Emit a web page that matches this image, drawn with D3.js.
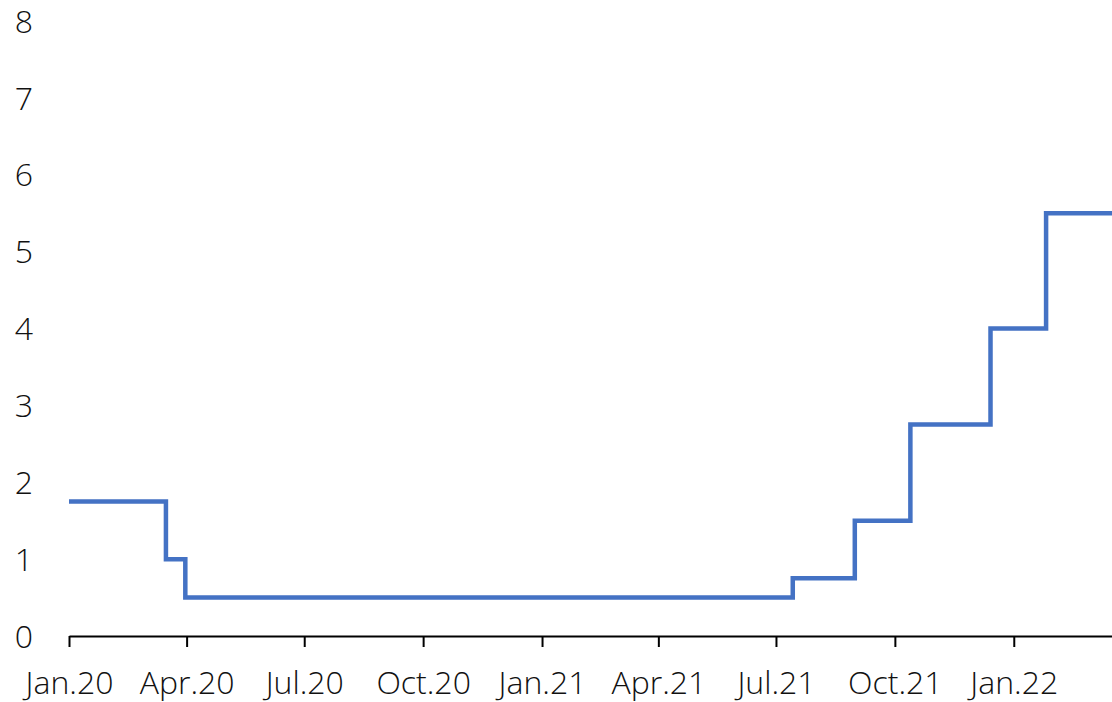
<!DOCTYPE html>
<html>
<head>
<meta charset="utf-8">
<script src="https://cdn.jsdelivr.net/npm/d3@7"></script>
<style>
  html, body { margin: 0; padding: 0; background: #fff; }
  svg { display: block; }
  text { font-family: "Open Sans", "Segoe UI", sans-serif; font-weight: 300; fill: #111; }
</style>
</head>
<body>
<svg id="chart" width="1112" height="702"></svg>
<script>
// Policy rate (%) — change dates and levels
const changeDates = ["2020-01-01", "2020-03-16", "2020-03-31", "2021-07-14", "2021-08-31", "2021-10-13", "2021-12-14", "2022-01-26"];
const rates = [1.75, 1.0, 0.5, 0.75, 1.5, 2.75, 4.0, 5.5];
const endDate = "2022-03-18";
const xTickDates = ["2020-01-01", "2020-04-01", "2020-07-01", "2020-10-01", "2021-01-01", "2021-04-01", "2021-07-01", "2021-10-01", "2022-01-01"];
const xTickLabels = ["Jan.20", "Apr.20", "Jul.20", "Oct.20", "Jan.21", "Apr.21", "Jul.21", "Oct.21", "Jan.22"];
const yTicks = [0, 1, 2, 3, 4, 5, 6, 7, 8];

const parse = d3.utcParse("%Y-%m-%d");
const W = 1112, H = 702;
const margin = { left: 69, right: 0, top: 21, bottom: 66 };

const svg = d3.select("#chart");

const x = d3.scaleUtc()
  .domain([parse(changeDates[0]), parse(endDate)])
  .range([margin.left, W - margin.right]);
const y = d3.scaleLinear()
  .domain([0, 8])
  .range([H - margin.bottom, margin.top]);

const pts = changeDates.map((d, i) => ({ date: parse(d), v: rates[i] }));
pts.push({ date: parse(endDate), v: rates[rates.length - 1] });

const fontSize = 32;

// y labels (no axis line)
const yAxis = d3.axisLeft(y).tickValues(yTicks).tickSize(0).tickFormat(d3.format("d"));
const gy = svg.append("g").attr("transform", "translate(33,0)").call(yAxis);
gy.select(".domain").remove();
gy.selectAll("text").attr("font-size", fontSize).attr("dy", "0.35em").attr("x", 0)
  .style("font-family", '"Open Sans", sans-serif').style("font-weight", 300).attr("fill", "#111");

// x axis
const xAxis = d3.axisBottom(x)
  .tickValues(xTickDates.map(parse))
  .tickSize(11)
  .tickSizeOuter(0)
  .tickFormat((d, i) => xTickLabels[i]);
const gx = svg.append("g").attr("transform", `translate(0,${y(0)})`).call(xAxis);
gx.select(".domain").attr("stroke", "#000").attr("stroke-width", 2);
gx.selectAll(".tick line").attr("stroke", "#000").attr("stroke-width", 2);
gx.selectAll("text").attr("font-size", fontSize).attr("y", 58).attr("dy", "0")
  .style("font-family", '"Open Sans", sans-serif').style("font-weight", 300).attr("fill", "#111");

// line
const line = d3.line()
  .x(d => x(d.date))
  .y(d => y(d.v))
  .curve(d3.curveStepAfter);
svg.append("path")
  .datum(pts)
  .attr("fill", "none")
  .attr("stroke", "#4472C4")
  .attr("stroke-width", 4.5)
  .attr("stroke-linejoin", "miter")
  .attr("d", line);
</script>
</body>
</html>
